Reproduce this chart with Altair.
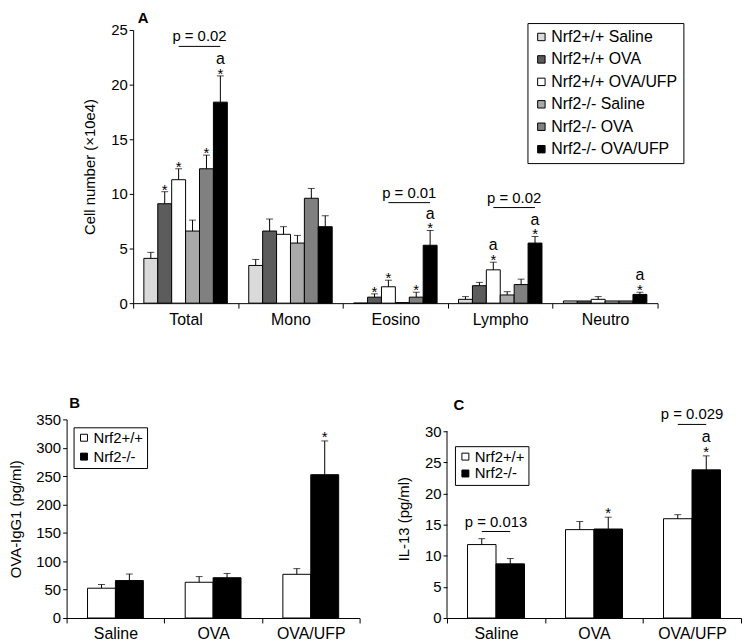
import altair as alt
import pandas as pd

FONT = "Liberation Sans"

# ---------------- Panel A: cell counts ----------------
groups_a = ["Total", "Mono", "Eosino", "Lympho", "Neutro"]
series_a = ["Nrf2+/+ Saline", "Nrf2+/+ OVA", "Nrf2+/+ OVA/UFP",
            "Nrf2-/- Saline", "Nrf2-/- OVA", "Nrf2-/- OVA/UFP"]
colors_a = ["#dadada", "#5c5c5c", "#ffffff", "#a9a9a9", "#808080", "#000000"]

wt_saline = [4.1, 3.45, 0.0, 0.35, 0.2]
wt_ova = [9.1, 6.6, 0.55, 1.6, 0.2]
wt_ufp = [11.3, 6.3, 1.5, 3.05, 0.35]
ko_saline = [6.6, 5.5, 0.05, 0.75, 0.2]
ko_ova = [12.3, 9.6, 0.55, 1.7, 0.2]
ko_ufp = [18.4, 7.0, 5.3, 5.5, 0.8]

wt_saline_sem = [0.55, 0.55, 0.0, 0.25, 0.0]
wt_ova_sem = [1.1, 1.1, 0.3, 0.3, 0.0]
wt_ufp_sem = [1.0, 0.7, 0.6, 0.7, 0.25]
ko_saline_sem = [1.0, 0.7, 0.0, 0.3, 0.0]
ko_ova_sem = [1.25, 0.9, 0.45, 0.5, 0.0]
ko_ufp_sem = [2.4, 1.0, 1.35, 0.6, 0.2]

stars_a = [("Total", "Nrf2+/+ OVA"), ("Total", "Nrf2+/+ OVA/UFP"),
           ("Total", "Nrf2-/- OVA"), ("Total", "Nrf2-/- OVA/UFP"),
           ("Eosino", "Nrf2+/+ OVA"), ("Eosino", "Nrf2+/+ OVA/UFP"),
           ("Eosino", "Nrf2-/- OVA"), ("Eosino", "Nrf2-/- OVA/UFP"),
           ("Lympho", "Nrf2+/+ OVA/UFP"), ("Lympho", "Nrf2-/- OVA/UFP"),
           ("Neutro", "Nrf2-/- OVA/UFP")]
letters_a = [("Total", "Nrf2-/- OVA/UFP"), ("Eosino", "Nrf2-/- OVA/UFP"),
             ("Lympho", "Nrf2+/+ OVA/UFP"), ("Lympho", "Nrf2-/- OVA/UFP"),
             ("Neutro", "Nrf2-/- OVA/UFP")]
p_groups_a = ["Total", "Eosino", "Lympho"]
p_y_a = [23.5, 9.2, 8.75]
p_text_a = ["p = 0.02", "p = 0.01", "p = 0.02"]

# ---------------- Panels B and C ----------------
groups_bc = ["Saline", "OVA", "OVA/UFP"]
genotypes = ["Nrf2+/+", "Nrf2-/-"]
colors_bc = ["#ffffff", "#000000"]

igg_wt = [52.5, 63.0, 77.0]
igg_wt_sem = [6.5, 10.0, 10.0]
igg_ko = [66.0, 71.0, 252.5]
igg_ko_sem = [11.5, 7.5, 59.5]
stars_b = [("OVA/UFP", "Nrf2-/-")]

il13_wt = [11.8, 14.2, 15.95]
il13_wt_sem = [0.95, 1.3, 0.65]
il13_ko = [8.7, 14.3, 23.8]
il13_ko_sem = [0.85, 1.9, 2.25]
stars_c = [("OVA", "Nrf2-/-"), ("OVA/UFP", "Nrf2-/-")]
letters_c = [("OVA/UFP", "Nrf2-/-")]
p_groups_c = ["Saline", "OVA/UFP"]
p_y_c = [13.9, 31.1]
p_text_c = ["p = 0.013", "p = 0.029"]


def long_table(groups, series, means, sems):
    rows = []
    for s, m, e in zip(series, means, sems):
        for g, mv, ev in zip(groups, m, e):
            rows.append({"group": g, "series": s, "mean": mv, "sem": ev, "top": mv + ev})
    return pd.DataFrame(rows)


def pick(df, pairs, mark):
    keys = set(pairs)
    sub = df[[(g, s) in keys for g, s in zip(df["group"], df["series"])]].copy()
    sub["mark"] = mark
    return sub


def panel(df, groups, series, colors, width, height, y_max, y_ticks, y_title,
          title_pad, pad_outer, legend, stars, letters, star_dy, a_dy,
          p_groups, p_y, p_text, band1, band2, label, label_y, label_dx, label_dy,
          axis_top=None):
    xs = alt.Scale(domain=groups, range=[0, width], paddingInner=0, paddingOuter=0)
    ys = alt.Scale(domain=[0, y_max], nice=False, zero=True)
    os_ = alt.Scale(domain=series, paddingInner=0, paddingOuter=pad_outer)
    x_axis = alt.Axis(tickBand="extent", labelAngle=0, title=None, tickSize=5,
                      labelPadding=3, labelFontSize=16)
    y_axis = alt.Axis(values=y_ticks, title=y_title, tickSize=4, labelPadding=2,
                      titlePadding=title_pad, minExtent=0, labelFontSize=15,
                      titleFontSize=15, domain=axis_top is None)

    def X(**kw):
        return alt.X("group:N", scale=xs, axis=x_axis, **kw)

    def Y(field):
        return alt.Y(field, scale=ys, axis=y_axis)

    XO = alt.XOffset("series:N", scale=os_)

    bars = alt.Chart(df).mark_bar(stroke="black", strokeWidth=1).encode(
        x=X(), xOffset=XO, y=Y("mean:Q"),
        color=alt.Color("series:N", scale=alt.Scale(domain=series, range=colors),
                        legend=legend),
    )
    err_df = df[df["sem"] > 0]
    err = alt.Chart(err_df).mark_rule(color="black", strokeWidth=1).encode(
        x=X(), xOffset=XO, y=Y("mean:Q"), y2="top:Q")
    caps = alt.Chart(err_df).mark_tick(color="black", thickness=1, size=7).encode(
        x=X(), xOffset=XO, y=Y("top:Q"))
    star_t = alt.Chart(pick(df, stars, "*")).mark_text(
        font=FONT, fontSize=15, baseline="alphabetic", dy=star_dy, color="black").encode(
        x=X(), xOffset=XO, y=Y("top:Q"), text="mark:N")
    layers = [bars, err, caps, star_t]
    if letters:
        a_t = alt.Chart(pick(df, letters, "a")).mark_text(
            font=FONT, fontSize=16, baseline="alphabetic", dy=a_dy, color="black").encode(
            x=X(), xOffset=XO, y=Y("top:Q"), text="mark:N")
        layers.append(a_t)
    if p_groups:
        pdf = pd.DataFrame({"group": p_groups, "py": p_y, "pt": p_text})
        pline = alt.Chart(pdf).mark_rule(color="black", strokeWidth=1).encode(
            x=X(bandPosition=band1),
            x2=alt.X2("group", bandPosition=band2),
            y=Y("py:Q"))
        ptxt = alt.Chart(pdf).mark_text(
            font=FONT, fontSize=15, baseline="middle", dy=-10, color="black").encode(
            x=X(bandPosition=(band1 + band2) / 2), y=Y("py:Q"), text="pt:N")
        layers += [pline, ptxt]
    if axis_top is not None:
        adf = pd.DataFrame({"group": [groups[0]], "y0": [0], "y1": [axis_top]})
        aline = alt.Chart(adf).mark_rule(color="black", strokeWidth=1).encode(
            x=X(bandPosition=0), y=Y("y0:Q"), y2="y1:Q")
        layers.append(aline)
    ldf = pd.DataFrame({"group": [groups[0]], "py": [label_y], "t": [label]})
    lab = alt.Chart(ldf).mark_text(
        font=FONT, fontSize=15, fontWeight="bold", baseline="middle", align="center",
        dx=label_dx, dy=label_dy, color="black").encode(
        x=X(bandPosition=0), y=Y("py:Q"), text="t:N")
    layers.append(lab)
    return alt.layer(*layers).properties(width=width, height=height)


def make_legend(x, y, pad, row_pad, size, font_size):
    return alt.Legend(orient="none", legendX=x, legendY=y, title=None,
                      symbolType="square", symbolSize=size,
                      symbolStrokeColor="black", symbolStrokeWidth=1,
                      labelFont=FONT, labelFontSize=font_size, labelColor="black",
                      labelOffset=2, strokeColor="black", fillColor="white",
                      padding=pad, rowPadding=row_pad, labelLimit=0)


df_a = long_table(groups_a, series_a,
                  [wt_saline, wt_ova, wt_ufp, ko_saline, ko_ova, ko_ufp],
                  [wt_saline_sem, wt_ova_sem, wt_ufp_sem, ko_saline_sem, ko_ova_sem, ko_ufp_sem])
df_b = long_table(groups_bc, genotypes, [igg_wt, igg_ko], [igg_wt_sem, igg_ko_sem])
df_c = long_table(groups_bc, genotypes, [il13_wt, il13_ko], [il13_wt_sem, il13_ko_sem])

panel_a = panel(df_a, groups_a, series_a, colors_a, width=528, height=275, y_max=25,
                y_ticks=[0, 5, 10, 15, 20, 25], y_title="Cell number (\u00d710e4)",
                title_pad=13, pad_outer=0.77,
                legend=make_legend(397, -7, 6, 6.6, 56, 16),
                stars=stars_a, letters=letters_a, star_dy=3, a_dy=-12,
                p_groups=p_groups_a, p_y=p_y_a, p_text=p_text_a,
                band1=0.434, band2=0.831, label="A", label_y=25,
                label_dx=10, label_dy=-12.5)

panel_b = panel(df_b, groups_bc, genotypes, colors_bc, width=295, height=200, y_max=350,
                y_ticks=[0, 50, 100, 150, 200, 250, 300, 350], y_title="OVA-IgG1 (pg/ml)",
                title_pad=12, pad_outer=0.75,
                legend=make_legend(7, 8, 3, 3, 49, 15),
                stars=stars_b, letters=[], star_dy=1, a_dy=-14,
                p_groups=[], p_y=[], p_text=[],
                band1=0.355, band2=0.645, label="B", label_y=350,
                label_dx=8, label_dy=-16)

c_top = 30 * 200 / 188
panel_c = panel(df_c, groups_bc, genotypes, colors_bc, width=296, height=200, y_max=c_top,
                y_ticks=[0, 5, 10, 15, 20, 25, 30], y_title="IL-13 (pg/ml)",
                title_pad=13, pad_outer=0.72,
                legend=make_legend(8, 27, 3, 1, 49, 15),
                stars=stars_c, letters=letters_c, star_dy=1, a_dy=-14,
                p_groups=p_groups_c, p_y=p_y_c, p_text=p_text_c,
                band1=0.355, band2=0.645, label="C", label_y=30,
                label_dx=12, label_dy=-26, axis_top=30)

spacer = alt.Chart(pd.DataFrame({"v": [0.0]})).mark_point(opacity=0).encode(
    x=alt.X("v:Q", axis=None), y=alt.Y("v:Q", axis=None)).properties(width=16, height=10)

top_row = alt.hconcat(spacer, panel_a, spacing=0).resolve_scale(
    color="independent", xOffset="independent").resolve_legend(color="independent")
bottom_row = alt.hconcat(panel_b, panel_c, spacing=36).resolve_scale(
    color="independent", xOffset="independent").resolve_legend(color="independent")

chart = alt.vconcat(top_row, bottom_row, spacing=70).resolve_scale(
    color="independent", xOffset="independent").resolve_legend(color="independent").properties(
    padding=0
).configure(font=FONT).configure_axis(
    labelFont=FONT, titleFont=FONT, labelColor="black", titleColor="black",
    domainColor="black", tickColor="black",
    grid=False, titleFontWeight="normal", labelOverlap=False
).configure_view(stroke=None)

chart.save("out.html", embed_options={"renderer": "svg", "actions": False})
